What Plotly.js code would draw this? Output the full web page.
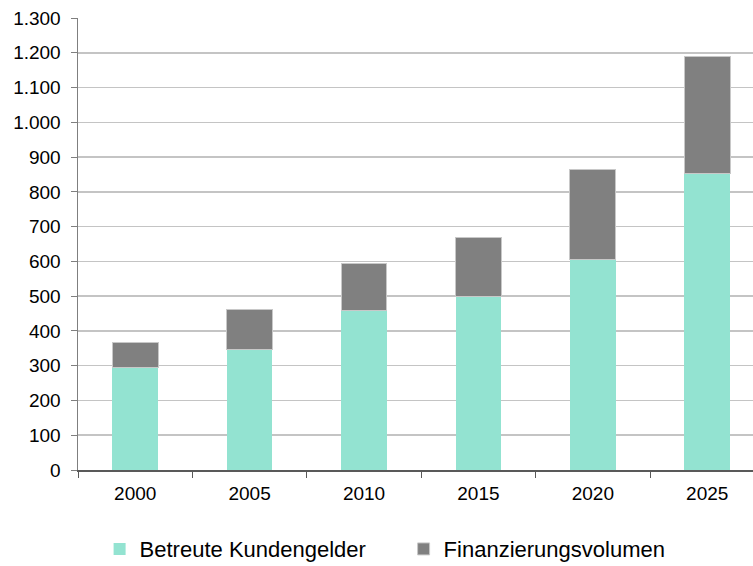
<!DOCTYPE html>
<html>
<head>
<meta charset="utf-8">
<script src="https://cdn.plot.ly/plotly-3.0.1.min.js"></script>
<style>html,body{margin:0;padding:0;background:#fff;}#chart{width:753px;height:566px;}</style>
</head>
<body>
<div id="chart"></div>
<script>
var years = ['2000', '2005', '2010', '2015', '2020', '2025'];
var kundengelder = [295, 347, 460, 500, 604, 853];
var finanzierung = [73, 116, 135, 169, 259, 335];
var yTickVals = [0,100,200,300,400,500,600,700,800,900,1000,1100,1200,1300];
var yTickText = ['0','100','200','300','400','500','600','700','800','900','1.000','1.100','1.200','1.300'];

var font = "'Liberation Sans', Arial, Helvetica, sans-serif";

var traces = [
  {type:'bar', name:'Betreute Kundengelder', x:years, y:kundengelder,
   marker:{color:'#93E3D1', line:{width:0}}, width:0.4},
  {type:'bar', name:'Finanzierungsvolumen', x:years, y:finanzierung,
   marker:{color:'#808080', line:{color:'#c8c8c8', width:1}}, width:0.4}
];

var layout = {
  width:753, height:566,
  margin:{l:78, r:0, t:18, b:96, autoexpand:false},
  paper_bgcolor:'#fff', plot_bgcolor:'#fff',
  barmode:'stack',
  font:{family:font, color:'#000', size:19},
  xaxis:{type:'category', range:[-0.5, 5.4], showgrid:false, automargin:false,
         showline:true, linecolor:'#595959', linewidth:1.5,
         ticks:'outside', tickson:'boundaries', ticklen:6, tickcolor:'#595959',
         ticklabelstandoff:6,
         tickfont:{size:19, family:font, color:'#000'}},
  yaxis:{range:[0,1300], tickvals:yTickVals, ticktext:yTickText, automargin:false,
         showline:true, linecolor:'#7f7f7f', linewidth:1.5,
         ticks:'outside', ticklen:6, tickcolor:'#7f7f7f',
         showgrid:true, gridcolor:'#c4c4c4', gridwidth:1.5, zeroline:false,
         ticklabelstandoff:6,
         tickfont:{size:19, family:font, color:'#000'}},
  showlegend:true,
  legend:{orientation:'h', x:0.032, xanchor:'left', y:-0.175, yanchor:'middle',
          font:{size:22, family:font, color:'#000'}, entrywidth:259, traceorder:'normal'}
};

Plotly.newPlot('chart', traces, layout, {displayModeBar:false, staticPlot:true});
</script>
</body>
</html>
